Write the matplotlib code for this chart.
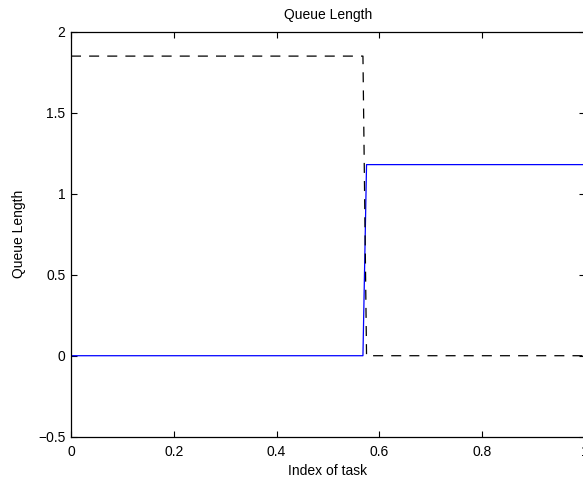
import matplotlib.pyplot as plt

plt.rcParams.update({'font.family': ['Liberation Sans', 'DejaVu Sans'],
                     'font.size': 10})

# Queue length per task index, two policies
task_solid = [0.0, 0.568, 0.575, 1.0]
queue_solid = [0.0, 0.0, 1.18, 1.18]
task_dashed = [0.0, 0.568, 0.575, 1.0]
queue_dashed = [1.85, 1.85, 0.0, 0.0]

xticks = [0, 0.2, 0.4, 0.6, 0.8, 1]
yticks = [-0.5, 0, 0.5, 1, 1.5, 2]
yticklabels = ['\u22120.5', '0', '0.5', '1', '1.5', '2']

fig = plt.figure(figsize=(5.83, 4.82), dpi=100)
ax = fig.add_axes([0.1218, 0.094, 0.8816, 0.840])

ax.plot(task_solid, queue_solid, color='#0000ff', linewidth=0.9)
ax.plot(task_dashed, queue_dashed, color='black', linewidth=0.9,
        linestyle=(0, (8, 6.5)))

ax.set_xlim(0, 1)
ax.set_ylim(-0.5, 2)
ax.set_xticks(xticks)
ax.set_xticklabels(['0', '0.2', '0.4', '0.6', '0.8', '1'])
ax.set_yticks(yticks)
ax.set_yticklabels(yticklabels)
ax.tick_params(direction='in', top=True, right=True, length=4,
               width=0.8, labelsize=10)
ax.tick_params(axis='x', pad=6)
ax.tick_params(axis='y', pad=4)
for s in ax.spines.values():
    s.set_linewidth(0.9)

ax.set_title('Queue Length', fontsize=10, pad=9.5)
ax.set_xlabel('Index of task', fontsize=10, labelpad=3.5)
ax.set_ylabel('Queue Length', fontsize=10, labelpad=9)

fig.savefig('out.png', dpi=100)
